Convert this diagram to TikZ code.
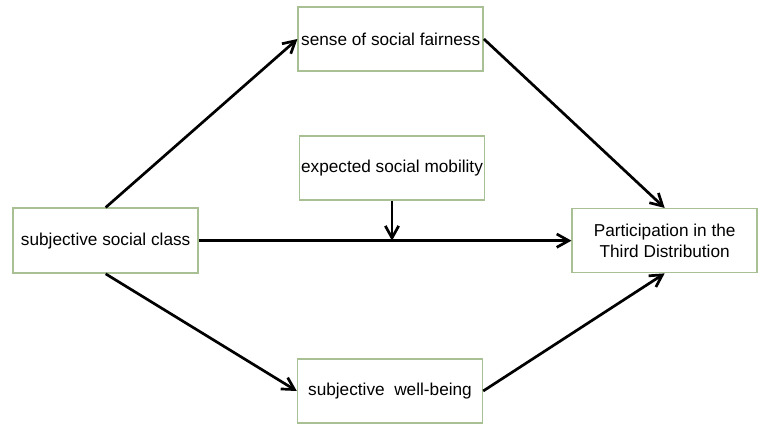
\documentclass[tikz,border=0pt]{standalone}
\usepackage{fontspec}
\setmainfont{Liberation Sans}
\usepackage{tikz}
\usetikzlibrary{arrows.meta}

\definecolor{boxgreen}{HTML}{A9BF94}
\tikzset{
  varbox/.style={draw=boxgreen,line width=1.2pt,fill=white,inner sep=0pt,
    minimum width=5.55cm,minimum height=1.92cm,align=center,
    font=\fontsize{14.7}{17.5}\selectfont},
  path/.style={-{Straight Barb[length=3.6mm,width=4mm]},line width=2.3pt}
}

\begin{document}
\begin{tikzpicture}
\useasboundingbox (0,0) rectangle (22.95,12.96);
\coordinate (c) at (3.17,5.74);
\coordinate (f) at (11.72,11.79);
\coordinate (m) at (11.76,7.92);
\coordinate (w) at (11.70,1.23);
\coordinate (p) at (19.94,5.74);
\coordinate (x) at (11.76,5.74);

\node[varbox,minimum height=1.95cm] (class) at (c) {subjective social class};
\node[varbox] (fair) at (f) {sense of social fairness};
\node[varbox] (mob) at (m) {expected social mobility};
\node[varbox] (well) at (w) {subjective\ \ well-being};
\node[varbox] (part) at (p) {Participation in the\\Third Distribution};

\draw[path] (class.north) to (fair.west);
\draw[path] (class.south) to (well.west);
\draw[path] (fair.east) to (part.north);
\draw[path] (well.east) to (part.south);
\draw[path] (class.east) to (part.west);
\draw[path] (mob.south) to (x);

\end{tikzpicture}
\end{document}
